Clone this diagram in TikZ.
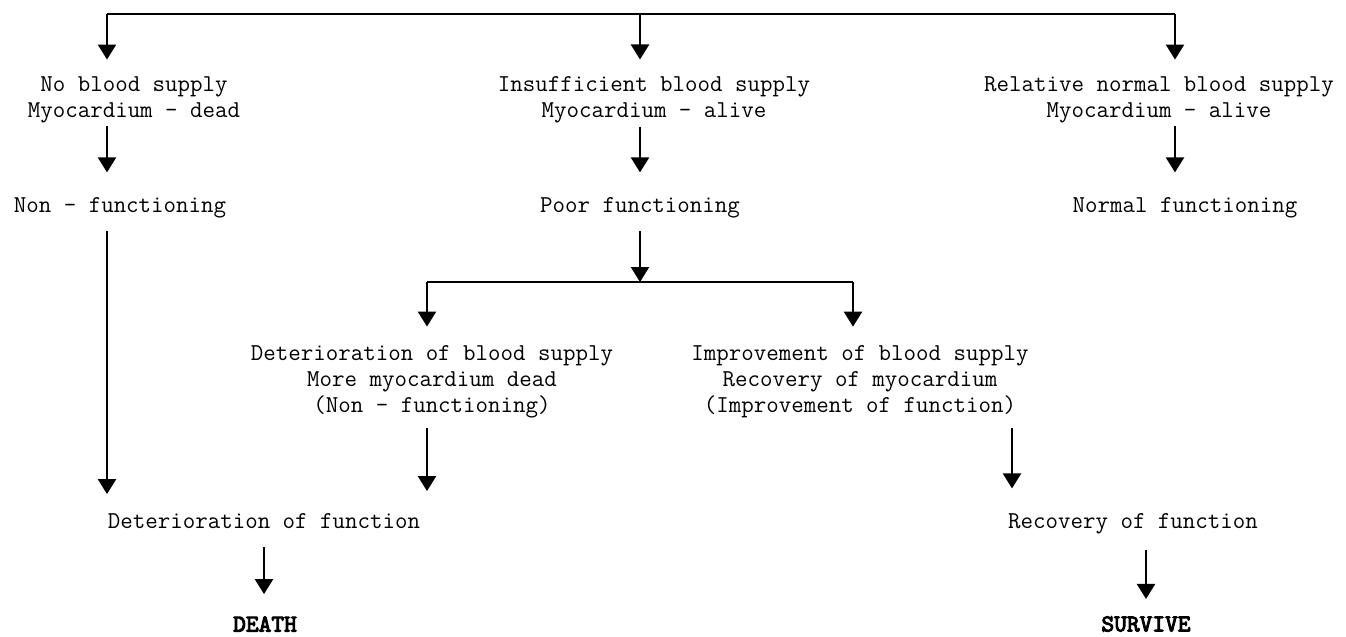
\documentclass[tikz,border=0pt]{standalone}
\usepackage{fontspec}
\newfontfamily\restt{lmmono10-regular.otf}[FakeBold=4]
\usetikzlibrary{arrows.meta,calc}

\tikzset{
  txt/.style={font=\ttfamily\fontsize{13.8}{14.7}\selectfont, align=center, inner sep=0pt},
  res/.style={txt, font=\restt\fontsize{13.8}{14.7}\selectfont},
  conn/.style={line width=1.3pt},
  arr/.style={conn, -{Triangle[length=0.3cm,width=0.36cm]}}
}

\begin{document}
\begin{tikzpicture}[x=0.02cm,y=-0.02cm]
  \useasboundingbox (0,0) rectangle (1346,636);

  % supply states
  \node[txt] (nob) at (134,100) {No blood supply\\Myocardium - dead};
  \node[txt] (insb) at (654,100) {Insufficient blood supply\\Myocardium - alive};
  \node[txt] (relb) at (1159,100) {Relative normal blood supply\\Myocardium - alive};

  % function
  \node[txt] (nonf) at (120,208) {Non - functioning};
  \node[txt] (poorf) at (640,208) {Poor functioning};
  \node[txt] (normf) at (1185,208) {Normal functioning};

  % course
  \node[txt] (detb) at (432,382) {Deterioration of blood supply\\More myocardium dead\\(Non - functioning)};
  \node[txt] (impb) at (860,382) {Improvement of blood supply\\Recovery of myocardium\\(Improvement of function)};

  % outcome
  \node[txt] (detf) at (264,521) {Deterioration of function};
  \node[txt] (recf) at (1133,524) {Recovery of function};
  \node[res] (death) at (265,624) {DEATH};
  \node[res] (surv) at (1146,624) {SURVIVE};

  \coordinate (tl) at (107,14);
  \coordinate (tm) at (640,14);
  \coordinate (tr) at (1175,14);
  \coordinate (sm) at (640,282);
  \coordinate (sl) at (427,282);
  \coordinate (sr) at (853,282);
  \coordinate (impx) at (1012,428);

  \draw[conn] (tl) -- (tr);
  \draw[arr,shorten >=0.34cm] (tl) -- (tl |- nob.north);
  \draw[arr,shorten >=0.34cm] (tm) -- (tm |- insb.north);
  \draw[arr,shorten >=0.34cm] (tr) -- (tr |- relb.north);

  \draw[arr,shorten <=0.06cm,shorten >=0.5cm] (tl |- nob.south) -- (tl |- nonf.north);
  \draw[arr,shorten <=0.06cm,shorten >=0.5cm] (tm |- insb.south) -- (tm |- poorf.north);
  \draw[arr,shorten <=0.06cm,shorten >=0.5cm] (tr |- relb.south) -- (tr |- normf.north);

  \draw[arr,shorten <=0.25cm,shorten >=0.38cm] (tl |- nonf.south) -- (tl |- detf.north);
  \draw[arr,shorten <=0.25cm] (poorf.south) -- (sm);
  \draw[conn] (sl) -- (sr);
  \draw[arr,shorten >=0.38cm] (sl) -- (sl |- detb.north);
  \draw[arr,shorten >=0.38cm] (sr) -- (sr |- impb.north);

  \draw[arr,shorten <=0.2cm,shorten >=0.44cm] (sl |- detb.south) -- (sl |- detf.north);
  \draw[arr,shorten >=0.5cm] (impx) -- (impx |- recf.north);

  \draw[arr,shorten <=0.36cm,shorten >=0.44cm] (detf.south) -- (detf.south |- death.north);
  \draw[arr,shorten <=0.3cm,shorten >=0.34cm] (recf.south -| surv) -- (surv.north);
\end{tikzpicture}
\end{document}
